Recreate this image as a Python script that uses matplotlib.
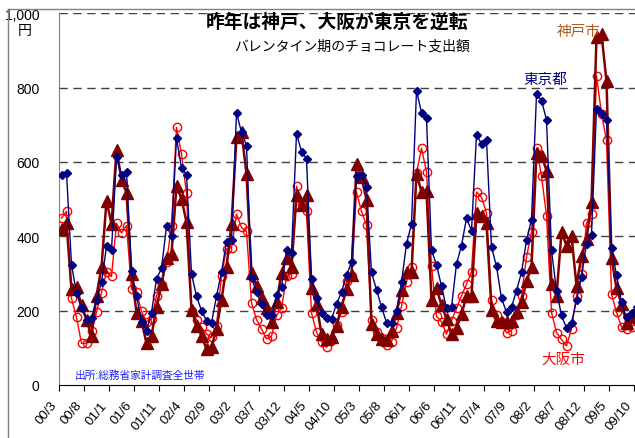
import numpy as np
import matplotlib
matplotlib.use("Agg")
import matplotlib.pyplot as plt
import matplotlib.transforms as mtransforms
from matplotlib.lines import Line2D

plt.rcParams['font.family'] = ['Liberation Sans', 'Noto Sans CJK JP', 'DejaVu Sans']

tick_labels = ['00/3', '00/8', '01/1', '01/6', '01/11', '02/4', '02/9', '03/2', '03/7',
               '03/12', '04/5', '04/10', '05/3', '05/8', '06/1', '06/6', '06/11', '07/4',
               '07/9', '08/2', '08/7', '08/12', '09/5', '09/10']

tokyo = [565, 571, 323, 247, 206, 176, 181, 229, 276, 373, 362, 613, 565, 574, 307, 240,
         170, 146, 195, 285, 314, 427, 402, 664, 584, 566, 299, 239, 200, 173, 167, 239,
         303, 386, 389, 732, 680, 644, 287, 251, 218, 188, 187, 242, 263, 364, 355, 676,
         628, 608, 285, 233, 194, 180, 177, 218, 250, 295, 330, 563, 565, 532, 303, 256,
         210, 168, 167, 200, 276, 380, 433, 792, 733, 718, 362, 323, 266, 206, 209, 326,
         375, 449, 415, 673, 649, 660, 371, 319, 233, 196, 209, 254, 303, 389, 445, 782,
         765, 714, 362, 254, 187, 153, 167, 228, 290, 380, 404, 743, 729, 714, 369, 296,
         222, 182, 195, 210]

kobe = [420, 435, 258, 263, 214, 176, 131, 240, 317, 496, 433, 633, 552, 517, 298, 195,
        173, 112, 133, 209, 272, 341, 353, 535, 501, 438, 203, 160, 133, 97, 101, 151,
        230, 317, 433, 667, 680, 568, 301, 267, 233, 206, 170, 223, 301, 341, 317, 510,
        485, 511, 260, 218, 137, 124, 128, 160, 209, 258, 297, 595, 559, 498, 165, 137,
        124, 120, 144, 195, 256, 303, 303, 568, 520, 521, 229, 260, 215, 178, 137, 153,
        191, 239, 239, 463, 456, 435, 203, 173, 169, 169, 173, 196, 223, 279, 317, 625,
        617, 577, 273, 240, 411, 375, 402, 267, 348, 393, 491, 937, 944, 817, 341, 260,
        218, 167, 182, 200]

osaka = [449, 467, 233, 182, 112, 112, 144, 196, 248, 305, 292, 435, 409, 429, 258, 251,
         198, 170, 177, 240, 270, 330, 427, 693, 621, 516, 200, 176, 155, 137, 128, 160,
         294, 366, 369, 460, 424, 413, 221, 176, 151, 124, 131, 187, 206, 292, 299, 535,
         487, 467, 194, 142, 116, 101, 120, 162, 196, 281, 294, 519, 467, 430, 175, 142,
         126, 108, 117, 153, 212, 278, 317, 571, 637, 574, 321, 185, 170, 137, 173, 206,
         240, 271, 305, 519, 505, 463, 228, 187, 169, 140, 146, 187, 240, 344, 412, 637,
         562, 456, 195, 141, 123, 105, 151, 240, 299, 435, 460, 831, 730, 658, 245, 196,
         156, 151, 156, 170]

W, H = 635, 439
fig = plt.figure(figsize=(W / 100, H / 100), dpi=100)
fig.patch.set_facecolor('white')

ax_l, ax_r, ax_t, ax_b = 59, 635, 14.3, 386
ax = fig.add_axes([ax_l / W, 1 - ax_b / H, (ax_r - ax_l) / W, (ax_b - ax_t) / H])

x = np.arange(len(tokyo)) + 0.5

ax.plot(x, osaka, color='#FF0000', lw=1.0, marker='o', ms=6, mfc='none', mec='#FF0000',
        mew=1.0, zorder=3)
ax.plot(x, kobe, color='#800000', lw=1.8, marker='^', ms=8, mfc='#800000', mec='#800000',
        zorder=4)
ax.plot(x, tokyo, color='#000080', lw=1.0, marker='D', ms=4, mfc='#000080', mec='#000080',
        zorder=5)

ax.set_xlim(0, (ax_r - ax_l) / 5.0)
ax.set_ylim(0, 1000)

ax.set_yticks([0, 200, 400, 600, 800, 1000])
ax.set_yticklabels(['0', '200', '400', '600', '800', '1,000'], fontsize=10)
for v in [200, 400, 600, 800, 1000]:
    ax.axhline(v, color='#404040', lw=1.0, ls=(0, (6, 4)), zorder=1)

ax.set_xticks(np.arange(len(tick_labels)) * 5)
ax.set_xticklabels(tick_labels, rotation=50, ha='right', va='top', rotation_mode='anchor',
                   fontsize=9.5)
ax.tick_params(axis='x', length=4, direction='out', pad=6, color='black')
ax.tick_params(axis='y', length=0, pad=14)
offset = mtransforms.ScaledTranslation(-9 / 100, 0, fig.dpi_scale_trans)
for lbl in ax.get_xticklabels():
    lbl.set_transform(lbl.get_transform() + offset)

for s in ['top', 'right']:
    ax.spines[s].set_visible(False)
ax.spines['left'].set_color('#808080')
ax.spines['bottom'].set_color('black')

# outer chart frame
fig.add_artist(Line2D([8 / W, 1], [1 - 10 / H, 1 - 10 / H], color='#808080', lw=1.0))
fig.add_artist(Line2D([8 / W, 8 / W], [0, 1 - 10 / H], color='#808080', lw=1.0))

fig.text(18 / W, 1 - 31 / H, '円', fontsize=10, ha='left', va='center')

fig.text(337 / W, 1 - 23 / H, '昨年は神戸、大阪が東京を逆転', fontsize=13.5, fontweight='bold',
         ha='center', va='center')
fig.text(352 / W, 1 - 47 / H, 'バレンタイン期のチョコレート支出額', fontsize=10,
         ha='center', va='center')

fig.text(579 / W, 1 - 32 / H, '神戸市', fontsize=10.5, color='#B05A1E', ha='center', va='center')
fig.text(545 / W, 1 - 80 / H, '東京都', fontsize=10.5, color='#000080', ha='center', va='center')
fig.text(563 / W, 1 - 360 / H, '大阪市', fontsize=10.5, color='#FF0000', ha='center', va='center')
fig.text(75 / W, 1 - 376 / H, '出所:総務省家計調査全世帯', fontsize=7.7, color='#2020FF',
         ha='left', va='center')

fig.savefig('out.png', dpi=100)
